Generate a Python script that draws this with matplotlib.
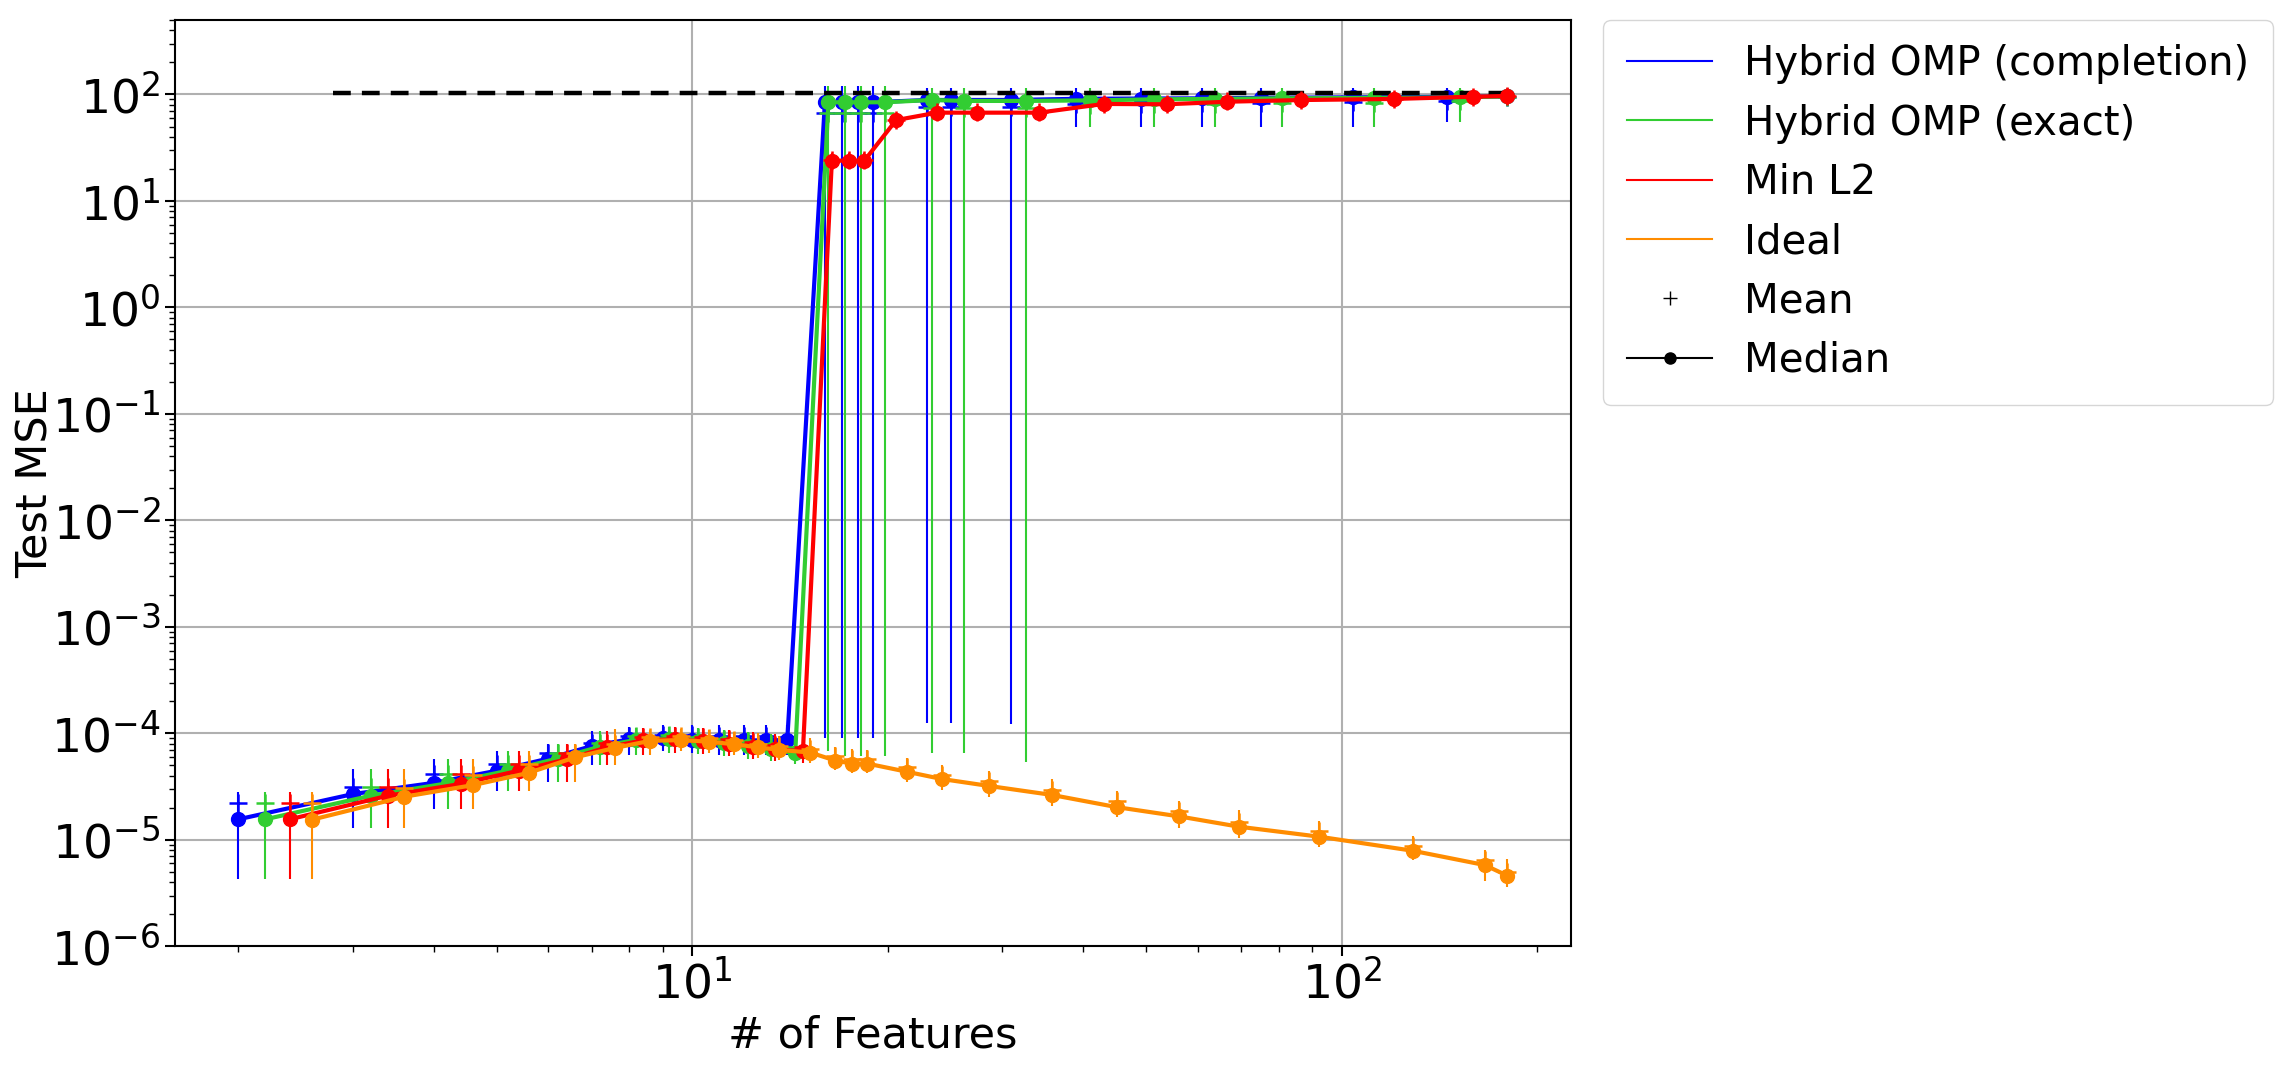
import numpy as np
import matplotlib.pyplot as plt
from matplotlib.lines import Line2D

# number of features (each method is shifted a little to the right so the bars don't overlap)
n_feat = np.array([2, 3, 4, 5, 6, 7, 8, 9, 10, 11, 12, 13, 14, 16, 17, 18, 19,
                   23, 25, 31, 39, 49, 61, 75, 104, 145, 180])

# Hybrid OMP (completion)
blue_med = [1.56e-5, 2.69e-5, 3.43e-5, 4.46e-5, 5.8e-5, 7.6e-5, 8.8e-5, 9.0e-5, 8.7e-5, 8.6e-5, 8.6e-5, 8.6e-5, 8.65e-5,
            84.5, 84.5, 84.5, 84.5, 88.8, 88.8, 88.8, 91, 91.6, 92, 93, 94, 95, 96]
blue_mean = [2.23e-5, 3.12e-5, 4.14e-5, 5.2e-5, 6.5e-5, 8.2e-5, 9.5e-5, 9.7e-5, 9.6e-5, 9.5e-5, 9.5e-5, 9.4e-5, 9.3e-5,
             67, 67, 67, 67, 76, 76, 76, 82, 82, 83, 84, 85, 86, 94]
blue_lo = [4.3e-6, 1.3e-5, 1.95e-5, 2.9e-5, 3.5e-5, 5.0e-5, 6.3e-5, 6.8e-5, 6.6e-5, 6.3e-5, 6.3e-5, 6.3e-5, 6.3e-5,
           9.0e-5, 9.0e-5, 9.0e-5, 9.0e-5, 1.24e-4, 1.24e-4, 1.22e-4, 50, 49.5, 49.5, 49.5, 49.5, 55.6, 80]
blue_hi = [2.83e-5, 4.59e-5, 5.7e-5, 6.9e-5, 7.9e-5, 1.05e-4, 1.15e-4, 1.2e-4, 1.2e-4, 1.2e-4, 1.2e-4, 1.2e-4, 1.2e-4,
           120, 120, 120, 120, 116, 116, 116, 114, 114, 114, 114, 114, 114, 110]

# Hybrid OMP (exact)
green_med = [1.56e-5, 2.6e-5, 3.4e-5, 4.46e-5, 5.8e-5, 7.5e-5, 8.7e-5, 8.9e-5, 8.5e-5, 8.1e-5, 7.6e-5, 7.1e-5, 6.5e-5,
             84.5, 84.5, 84.5, 84.5, 88.8, 87, 87, 88, 90, 91, 92, 93, 94, 96]
green_mean = [2.23e-5, 3.12e-5, 4.14e-5, 5.2e-5, 6.5e-5, 8.2e-5, 9.4e-5, 9.6e-5, 9.3e-5, 8.9e-5, 8.4e-5, 7.9e-5, 7.4e-5,
              67, 67, 67, 67, 74, 74, 74, 80, 81, 82, 83, 84, 86, 94]
green_lo = [4.3e-6, 1.3e-5, 1.95e-5, 2.9e-5, 3.5e-5, 5.0e-5, 6.3e-5, 6.6e-5, 6.4e-5, 6.1e-5, 5.8e-5, 5.5e-5, 5.2e-5,
            6.8e-5, 6.1e-5, 6.1e-5, 6.1e-5, 6.6e-5, 6.6e-5, 5.4e-5, 50, 49.5, 49.5, 49.5, 49.5, 55.6, 85]
green_hi = [2.83e-5, 4.59e-5, 5.7e-5, 6.9e-5, 7.9e-5, 1.05e-4, 1.12e-4, 1.15e-4, 1.12e-4, 1.08e-4, 1.03e-4, 9.8e-5, 9.2e-5,
            120, 120, 120, 120, 116, 116, 116, 114, 114, 114, 114, 114, 114, 108]

# Min L2
red_med = [1.56e-5, 2.6e-5, 3.35e-5, 4.46e-5, 5.7e-5, 7.4e-5, 8.6e-5, 8.8e-5, 8.4e-5, 8.0e-5, 7.5e-5, 7.1e-5, 6.8e-5,
           23.9, 23.9, 23.9, 57.5, 67.5, 67.5, 67.5, 81.5, 80.9, 85.5, 88.7, 90.8, 95.3, 96.8]
red_mean = [2.23e-5, 3.12e-5, 4.14e-5, 5.2e-5, 6.5e-5, 8.1e-5, 9.3e-5, 9.5e-5, 9.2e-5, 8.8e-5, 8.3e-5, 7.8e-5, 7.5e-5,
            24.5, 24.5, 24.5, 58, 68, 68, 68, 82, 81.5, 86, 89, 91, 95.5, 97]
red_lo = [4.3e-6, 1.3e-5, 1.95e-5, 2.9e-5, 3.5e-5, 5.0e-5, 6.3e-5, 6.6e-5, 6.4e-5, 6.1e-5, 5.8e-5, 5.5e-5, 5.3e-5,
          20.5, 20.5, 20.5, 50, 59, 59, 59, 71, 71, 75, 78, 80, 84, 86]
red_hi = [2.83e-5, 4.59e-5, 5.7e-5, 6.9e-5, 7.9e-5, 1.05e-4, 1.12e-4, 1.15e-4, 1.12e-4, 1.08e-4, 1.03e-4, 9.8e-5, 9.3e-5,
          28, 28, 28, 66, 77, 77, 77, 93, 93, 97, 100, 103, 107, 109]

# Ideal
orange_med = [1.55e-5, 2.54e-5, 3.27e-5, 4.26e-5, 5.96e-5, 7.3e-5, 8.5e-5, 8.65e-5, 8.35e-5, 7.9e-5, 7.4e-5, 7.0e-5, 6.6e-5,
              5.55e-5, 5.2e-5, 5.2e-5, 4.36e-5, 3.73e-5, 3.21e-5, 2.64e-5, 2.03e-5, 1.66e-5, 1.33e-5, 1.07e-5,
              7.9e-6, 5.8e-6, 4.6e-6]
orange_mean = [2.23e-5, 3.1e-5, 4.1e-5, 5.2e-5, 6.5e-5, 8.0e-5, 9.3e-5, 9.4e-5, 9.1e-5, 8.6e-5, 8.0e-5, 7.6e-5, 7.2e-5,
               6.1e-5, 5.7e-5, 5.7e-5, 4.8e-5, 4.1e-5, 3.6e-5, 2.95e-5, 2.3e-5, 1.85e-5, 1.48e-5, 1.2e-5,
               8.8e-6, 6.4e-6, 5.0e-6]
orange_lo = [4.3e-6, 1.3e-5, 1.95e-5, 2.9e-5, 3.5e-5, 5.0e-5, 6.3e-5, 6.8e-5, 6.6e-5, 6.2e-5, 5.9e-5, 5.6e-5, 5.3e-5,
             4.5e-5, 4.2e-5, 4.2e-5, 3.5e-5, 2.95e-5, 2.5e-5, 2.1e-5, 1.65e-5, 1.3e-5, 1.05e-5, 8.5e-6,
             6.5e-6, 4.1e-6, 3.6e-6]
orange_hi = [2.83e-5, 4.59e-5, 5.7e-5, 6.9e-5, 7.9e-5, 1.09e-4, 1.07e-4, 1.1e-4, 1.08e-4, 1.04e-4, 1.0e-4, 9.5e-5, 9.0e-5,
             7.4e-5, 7.2e-5, 7.0e-5, 5.9e-5, 5.0e-5, 4.46e-5, 3.7e-5, 2.9e-5, 2.3e-5, 1.9e-5, 1.51e-5,
             1.09e-5, 8.0e-6, 6.6e-6]

null_mse = 104.0   # dashed reference level
null_x = [2.8, 180]

labels = ['Hybrid OMP (completion)', 'Hybrid OMP (exact)', 'Min L2', 'Ideal']
colors = ['#0000ff', '#32cd32', '#ff0000', '#ff8c00']
series = [(blue_med, blue_mean, blue_lo, blue_hi),
          (green_med, green_mean, green_lo, green_hi),
          (red_med, red_mean, red_lo, red_hi),
          (orange_med, orange_mean, orange_lo, orange_hi)]

step = np.append(np.diff(n_feat), 0) / 5.0

fig = plt.figure(figsize=(22.91, 10.67), dpi=100)
ax = fig.add_axes([0.0764, 0.1131, 0.6093, 0.8681])

for k, (med, mean, lo, hi) in enumerate(series):
    x = n_feat + k * step
    mean = np.array(mean)
    yerr = [mean - np.array(lo), np.array(hi) - mean]
    ax.errorbar(x, mean, yerr=yerr, fmt='+', color=colors[k], ecolor=colors[k],
                elinewidth=1.5, markersize=13, markeredgewidth=1.8, zorder=2 + k)
    ax.plot(x, med, '-o', color=colors[k], linewidth=3, markersize=10, zorder=2 + k)
    if k == 1:
        ax.plot(null_x, [null_mse, null_mse], '--', color='black', linewidth=3.2,
                dashes=(4, 2.5), zorder=3.5)

ax.set_xscale('log')
ax.set_yscale('log')
ax.set_ylim(1e-6, 500)
ax.grid(True, which='major', color='#b0b0b0', linewidth=1.5)
ax.set_axisbelow(True)
for s in ax.spines.values():
    s.set_linewidth(1.5)

ax.set_xlabel('# of Features', fontsize=31)
ax.set_ylabel('Test MSE', fontsize=31, labelpad=-4)
ax.tick_params(which='major', labelsize=34, length=7, width=1.5)
ax.tick_params(which='minor', length=4, width=1.0)

handles = [Line2D([], [], color=c, linewidth=1.5) for c in colors]
handles.append(Line2D([], [], color='black', marker='+', linestyle='None', markersize=10))
handles.append(Line2D([], [], color='black', marker='o', linewidth=1.5, markersize=8))
ax.legend(handles, labels + ['Mean', 'Median'], loc='upper left',
          bbox_to_anchor=(1.023, 1.0), borderaxespad=0, fontsize=29,
          handlelength=2.1, labelspacing=0.48, borderpad=0.6)

plt.savefig('out.png', dpi=100)
